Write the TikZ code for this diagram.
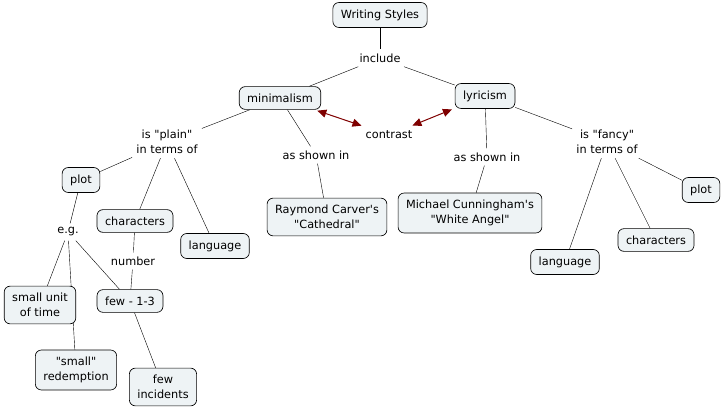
\documentclass[tikz,border=0pt]{standalone}
\usepackage{fontspec}
\setmainfont{DejaVu Sans}[Ligatures=TeXOff]
\usetikzlibrary{arrows.meta,backgrounds}
\definecolor{boxfill}{HTML}{EEF3F5}
\definecolor{darkred}{HTML}{7F0000}

\begin{document}
\begin{tikzpicture}[x=1pt,y=-1pt, line width=0.65pt,
    font=\fontsize{11.3pt}{15pt}\selectfont,
    concept/.style={draw, rounded corners=6pt, fill=boxfill, align=center,
        inner xsep=8pt, inner ysep=7pt},
    phrase/.style={align=center, inner sep=4pt},
    contrastarrow/.style={darkred, line width=1pt, {Triangle[length=9pt,width=8pt]}-{Triangle[length=9pt,width=8pt]},
        shorten <=3pt, shorten >=3pt}]
                        \useasboundingbox (0,0) rectangle (725,409);
                        % concepts
                        \node[concept] (styles) at (380,15) {Writing Styles};
                        \node[concept] (minimalism) at (280,98) {minimalism};
                        \node[concept] (lyricism) at (485,96) {lyricism};
                        \node[concept] (plotL) at (81,180) {plot};
                        \node[concept] (charsL) at (135,221) {characters};
                        \node[concept] (langL) at (215,246) {language};
                        \node[concept] (carver) at (327,217) {Raymond Carver's\\"Cathedral"};
                        \node[concept] (cunningham) at (470,213) {Michael Cunningham's\\"White Angel"};
                        \node[concept] (plotR) at (701,190) {plot};
                        \node[concept] (charsR) at (656,240) {characters};
                        \node[concept] (langR) at (565,262) {language};
                        \node[concept] (unit) at (40,305) {small unit\\of time};
                        \node[concept] (few) at (130,301) {few - 1-3};
                        \node[concept] (redemption) at (76,370) {"small"\\redemption};
                        \node[concept] (incidents) at (163,387) {few\\incidents};
                        % linking phrases
                        \node[phrase] (include) at (380,58) {include};
                        \node[phrase] (contrast) at (389,135) {contrast};
                        \node[phrase] (plain) at (167,142) {is "plain"\\in terms of};
                        \node[phrase] (shownL) at (316,155) {as shown in};
                        \node[phrase] (shownR) at (487,157) {as shown in};
                        \node[phrase] (fancy) at (607,142) {is "fancy"\\in terms of};
                        \node[phrase] (eg) at (68,232) {e.g.};
                        \node[phrase] (number) at (133,261) {number};
                        % links, behind the boxes
                        \begin{pgfonlayer}{background}
                        \draw (styles) -- (include);
                        \draw (include) -- (minimalism);
                        \draw (include) -- (lyricism);
                        \draw[contrastarrow] (minimalism) -- (contrast);
                        \draw[contrastarrow] (contrast) -- (lyricism);
                        \draw (minimalism) -- (plain);
                        \draw (plain) -- (plotL);
                        \draw (plain) -- (charsL);
                        \draw (plain) -- (langL);
                        \draw (minimalism) -- (shownL);
                        \draw (shownL) -- (carver);
                        \draw (lyricism) -- (shownR);
                        \draw (shownR) -- (cunningham);
                        \draw (lyricism) -- (fancy);
                        \draw (fancy) -- (plotR);
                        \draw (fancy) -- (charsR);
                        \draw (fancy) -- (langR);
                        \draw (plotL) -- (eg);
                        \draw (eg) -- (unit);
                        \draw (eg) -- (redemption);
                        \draw (eg) -- (few);
                        \draw (charsL) -- (number);
                        \draw (number) -- (few);
                        \draw (few) -- (incidents);
                        \end{pgfonlayer}
                    \end{tikzpicture}
\end{document}
